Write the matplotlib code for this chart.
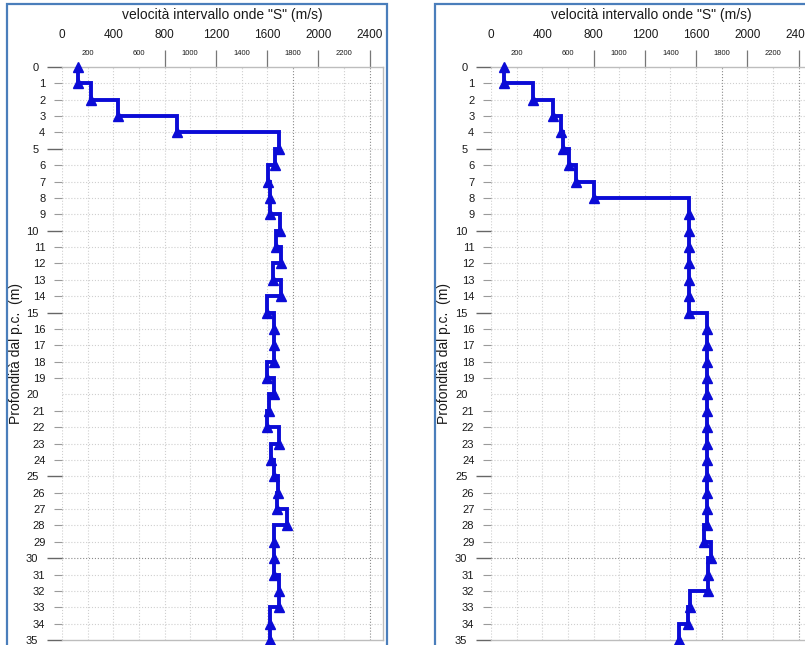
import numpy as np
import matplotlib
matplotlib.use('Agg')
import matplotlib.pyplot as plt
from matplotlib.patches import Rectangle

plt.rcParams['font.family'] = ['Liberation Sans', 'DejaVu Sans']

# Vs per 1 m layer, read from the two profiles (depth 0-35 m)
depth_top = list(range(35))
vs_left = [125, 230, 440, 895, 1690, 1660, 1610, 1625, 1625, 1700,
           1665, 1705, 1645, 1705, 1600, 1650, 1650, 1650, 1600, 1650,
           1615, 1600, 1695, 1630, 1650, 1685, 1680, 1755, 1650, 1650,
           1650, 1695, 1695, 1625, 1625]
vs_right = [100, 330, 480, 550, 565, 605, 660, 800, 1545, 1545,
            1545, 1545, 1545, 1545, 1545, 1685, 1685, 1685, 1685, 1685,
            1685, 1685, 1685, 1685, 1685, 1685, 1685, 1685, 1660, 1715,
            1695, 1695, 1555, 1540, 1470]

x_major = [0, 400, 800, 1200, 1600, 2000, 2400]
x_minor = [200, 600, 1000, 1400, 1800, 2200]
y_major = [0, 5, 10, 15, 20, 25, 30, 35]
y_minor = [d for d in range(36) if d % 5 != 0]

title = 'velocità intervallo onde "S" (m/s)'
ylabel = 'Profondità dal p.c.  (m)'

W, H = 805, 645
fig = plt.figure(figsize=(W / 100, H / 100), dpi=100)
fig.patch.set_facecolor('white')


def px_axes(x0, x1, y0, y1):
    return fig.add_axes([x0 / W, 1 - y1 / H, (x1 - x0) / W, (y1 - y0) / H])


def draw_panel(ax, vs, ylab_x):
    v = np.asarray(vs, float)
    d = np.asarray(depth_top)
    ax.set_xlim(0, 2500)
    ax.set_ylim(35, 0)

    # grid
    for xv in x_major + x_minor:
        dark = xv in (1800, 2400)
        ax.axvline(xv, ls=':', lw=0.8, color='#8a8a8a' if dark else '#cfcfcf', zorder=1)
    for yv in range(1, 35):
        ax.axhline(yv, ls=':', lw=0.8, color='#8a8a8a' if yv == 30 else '#cfcfcf', zorder=1)

    # step profile
    line_d = np.column_stack([d, d + 1]).ravel()
    line_v = np.repeat(v, 2)
    ax.plot(line_v, line_d, color='#0b0bd6', lw=2.8, solid_joinstyle='miter', zorder=3)
    ax.plot(np.r_[v[0], v], np.r_[d[0], d + 1], ls='none', marker='^', ms=6.5,
            color='#0b0bd6', zorder=4, clip_on=False)

    # x axis on top, two label rows
    ax.xaxis.tick_top()
    ax.set_xticks(x_major, labels=[str(x) for x in x_major])
    ax.set_xticks(x_minor, labels=[str(x) for x in x_minor], minor=True)
    ax.tick_params(axis='x', which='major', top=True, bottom=False, length=12, width=0.9,
                   color='#777777', pad=7, labelsize=8.5, labelcolor='#1a1a1a')
    ax.tick_params(axis='x', which='minor', top=True, bottom=False, length=0, pad=7,
                   labelsize=5.5, labelcolor='#1a1a1a')
    for t in ax.xaxis.get_major_ticks()[:2]:
        t.tick2line.set_visible(False)

    # depth axis
    ax.set_yticks(y_major, labels=[str(y) for y in y_major])
    ax.set_yticks(y_minor, labels=[str(y) for y in y_minor], minor=True)
    ax.tick_params(axis='y', which='major', length=11, width=1.0, color='#666666', pad=6,
                   labelsize=8, labelcolor='#1a1a1a')
    ax.tick_params(axis='y', which='minor', length=6, width=0.8, color='#9a9a9a', pad=6,
                   labelsize=8, labelcolor='#1a1a1a')
    ax.yaxis.get_major_ticks()[4].tick1line.set_visible(False)

    for side in ('top', 'right', 'bottom'):
        ax.spines[side].set_color('#bdbdbd')
        ax.spines[side].set_linewidth(1.0)
    ax.spines['left'].set_visible(False)

    ax.text(0.5, 1 + 52 / 573, title, transform=ax.transAxes, ha='center', va='center',
            fontsize=10, color='#1a1a1a')
    ax.set_ylabel(ylabel, fontsize=10, color='#1a1a1a', va='center')
    ax.yaxis.set_label_coords(ylab_x, 0.5)


ax1 = px_axes(62, 382.6, 67, 640)
draw_panel(ax1, vs_left, (16 - 62) / 320.6)

ax2 = px_axes(491, 811.4, 67, 640)
draw_panel(ax2, vs_right, (444 - 491) / 320.4)

# blue frames round the two panels
for x0, x1 in [(7, 387), (435, 900)]:
    fig.add_artist(Rectangle((x0 / W, -0.1), (x1 - x0) / W, 1 - 4 / H + 0.1,
                             transform=fig.transFigure, fill=False, ec='#4a7ebb',
                             lw=1.6, clip_on=False))

fig.savefig('out.png', dpi=100)
